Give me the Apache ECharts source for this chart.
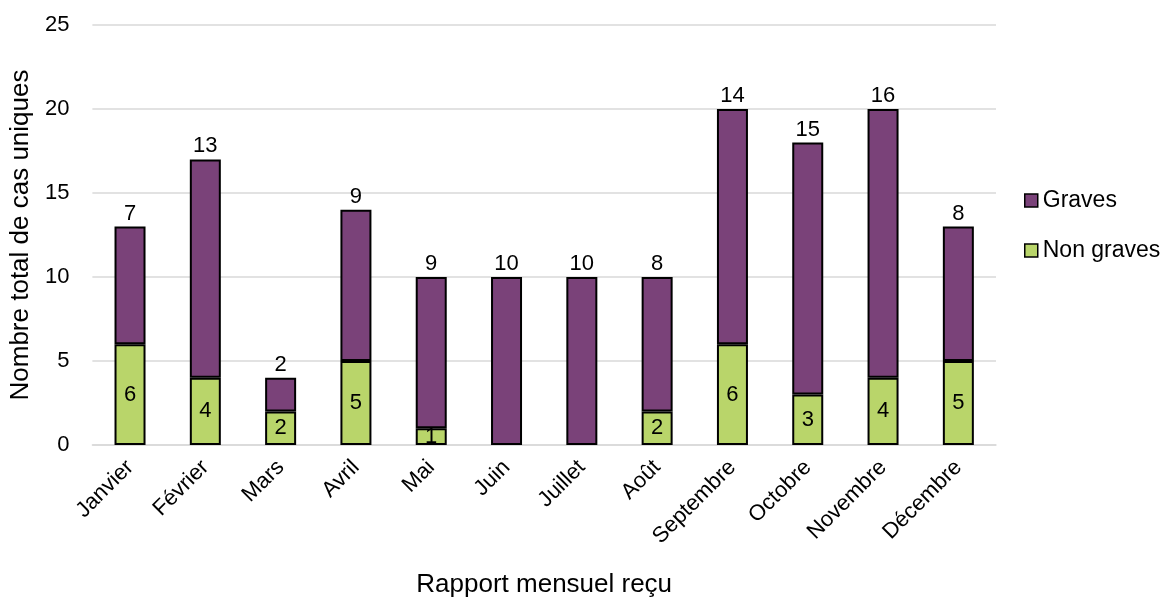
<!DOCTYPE html>
<html><head><meta charset="utf-8">
<script src="https://cdn.jsdelivr.net/npm/echarts@6/dist/echarts.min.js"></script>
<style>html,body{margin:0;padding:0;background:#fff}#c{width:1163px;height:603px}</style>
</head><body><div id="c"></div>
<script>
const categories = ['Janvier','Février','Mars','Avril','Mai','Juin','Juillet','Août','Septembre','Octobre','Novembre','Décembre'];
const nonGraves = [6,4,2,5,1,0,0,2,6,3,4,5];
const graves = [7,13,2,9,9,10,10,8,14,15,16,8];
const yTicks = [0,5,10,15,20,25];

const font = 'Liberation Sans, Arial, sans-serif';
const noZero = arr => arr.map(v => v === 0 ? null : v);
const chart = echarts.init(document.getElementById('c'));
chart.setOption({
  animation: false,
  textStyle: {fontFamily: font},
  grid: {left: 91, right: 167, top: 25, bottom: 153, containLabel: false},
  legend: {
    orient: 'vertical', left: 1019, top: 184, itemGap: 27,
    itemWidth: 13, itemHeight: 13, icon: 'rect',
    itemStyle: {borderColor: '#000', borderWidth: 1.5},
    textStyle: {fontSize: 23, color: '#000', fontFamily: font},
    data: ['Graves','Non graves']
  },
  xAxis: {
    type: 'category', data: categories,
    name: 'Rapport mensuel reçu', nameLocation: 'middle', nameGap: 127,
    nameTextStyle: {fontSize: 26, color: '#000'},
    axisLine: {show: true, lineStyle: {color: '#d9d9d9', width: 1.5}},
    axisTick: {show: false},
    axisLabel: {rotate: 45, fontSize: 22, color: '#000', margin: 19, interval: 0}
  },
  yAxis: {
    type: 'value', min: yTicks[0], max: yTicks[yTicks.length-1], interval: 5,
    name: 'Nombre total de cas uniques', nameLocation: 'middle', nameGap: 56,
    nameTextStyle: {fontSize: 26, color: '#000'},
    axisLine: {show: false}, axisTick: {show: false},
    axisLabel: {fontSize: 22, color: '#000', margin: 23},
    splitLine: {lineStyle: {color: '#d9d9d9', width: 1.5}}
  },
  series: [
    {
      name: 'Non graves', type: 'bar', stack: 'total', data: noZero(nonGraves), barWidth: 31,
      itemStyle: {color: '#b9d56a', borderColor: '#000', borderWidth: 2},
      label: {show: true, position: 'inside', fontSize: 22, color: '#000'}
    },
    {
      name: 'Graves', type: 'bar', stack: 'total', data: noZero(graves), barWidth: 31,
      itemStyle: {color: '#7a4279', borderColor: '#000', borderWidth: 2},
      label: {show: true, position: 'top', distance: 2, fontSize: 22, color: '#000'}
    }
  ]
});
</script></body></html>
